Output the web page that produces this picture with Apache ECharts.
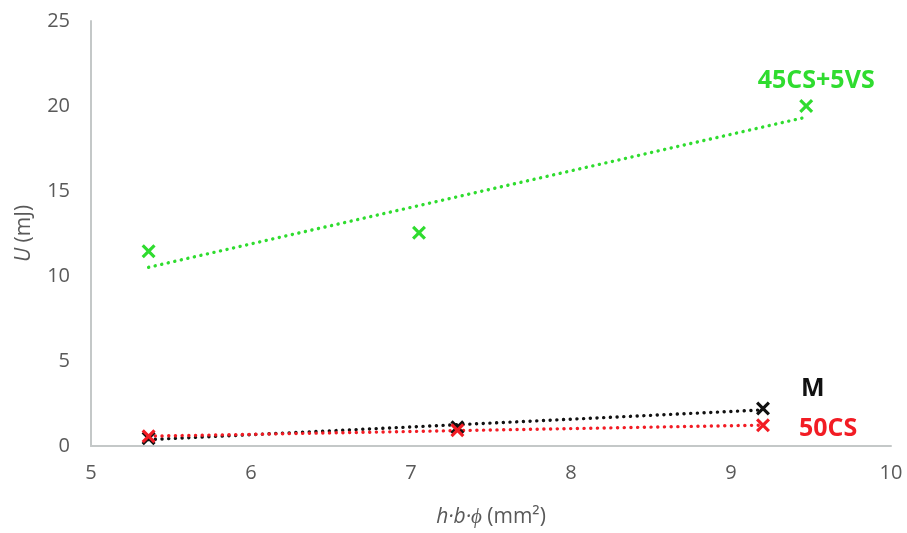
<!DOCTYPE html>
<html><head><meta charset="utf-8">
<script src="https://cdn.jsdelivr.net/npm/echarts@6/dist/echarts.min.js"></script>
<style>html,body{margin:0;padding:0;background:#fff}#c{width:907px;height:533px}</style>
</head><body><div id="c"></div>
<script>
// Data
const xTicks = [5, 6, 7, 8, 9, 10];
const yTicks = [0, 5, 10, 15, 20, 25];
const greenX = [5.36, 7.05, 9.47];
const greenY = [11.45, 12.55, 20.0];
const blackX = [5.36, 7.29, 9.2];
const blackY = [0.45, 1.1, 2.2];
const redX = [5.36, 7.29, 9.2];
const redY = [0.57, 0.92, 1.22];
const names = ['45CS+5VS', 'M', '50CS'];
const colors = ['#2fdc2f', '#111111', '#f21c24'];

function regress(xs, ys) {
  const n = xs.length;
  const mx = xs.reduce((a, b) => a + b, 0) / n;
  const my = ys.reduce((a, b) => a + b, 0) / n;
  let sxy = 0, sxx = 0;
  for (let i = 0; i < n; i++) { sxy += (xs[i] - mx) * (ys[i] - my); sxx += (xs[i] - mx) ** 2; }
  const b = sxy / sxx, a = my - b * mx;
  const x0 = Math.min(...xs), x1 = Math.max(...xs);
  return [[x0, a + b * x0], [x1, a + b * x1]];
}
const xMark = 'path://M0,1.6L1.6,0L5,3.4L8.4,0L10,1.6L6.6,5L10,8.4L8.4,10L5,6.6L1.6,10L0,8.4L3.4,5Z';

const sets = [[greenX, greenY], [blackX, blackY], [redX, redY]];
const labelCfg = [
  { position: 'top', offset: [10, -1] },
  { position: 'right', offset: [26, -20] },
  { position: 'right', offset: [24, 4] }
];
const series = [];
sets.forEach((s, k) => {
  series.push({
    type: 'line', data: regress(s[0], s[1]), symbol: 'none', silent: true, z: 2,
    lineStyle: { color: colors[k], width: 3.4, type: [0.1, 6.6], cap: 'round', opacity: 1 }
  });
  const pts = s[0].map((x, i) => {
    const p = { value: [x, s[1][i]] };
    if (i === s[0].length - 1) {
      p.label = Object.assign({ show: true, formatter: names[k], color: colors[k], fontWeight: 'bold',
        fontFamily: 'Open Sans', fontSize: 25 }, labelCfg[k]);
    }
    return p;
  });
  series.push({
    type: 'scatter', data: pts, symbol: xMark, symbolSize: 14, z: 3,
    itemStyle: { color: colors[k], opacity: 1 }
  });
});

const axisFont = { color: '#595959', fontSize: 20, fontFamily: 'Open Sans' };
const chart = echarts.init(document.getElementById('c'));
chart.setOption({
  animation: false,
  grid: { left: 91, right: 16, top: 21, bottom: 84 },
  xAxis: {
    type: 'value', min: xTicks[0], max: xTicks[xTicks.length - 1], interval: 1,
    axisLine: { lineStyle: { color: '#c4c8c8', width: 2 } },
    axisTick: { show: false }, splitLine: { show: false },
    axisLabel: Object.assign({ margin: 17 }, axisFont),
    name: '{i|h·b·ϕ} (mm²)', nameLocation: 'middle', nameGap: 61,
    nameTextStyle: { color: '#595959', fontSize: 21, fontFamily: 'Open Sans',
      rich: { i: { fontStyle: 'italic', fontSize: 21, color: '#595959', fontFamily: 'Open Sans' } } }
  },
  yAxis: {
    type: 'value', min: yTicks[0], max: yTicks[yTicks.length - 1], interval: 5,
    axisLine: { show: true, lineStyle: { color: '#c4c8c8', width: 2 } },
    axisTick: { show: false }, splitLine: { show: false },
    axisLabel: Object.assign({ margin: 21 }, axisFont),
    name: '{i|U} (mJ)', nameLocation: 'middle', nameGap: 56, nameRotate: 90,
    nameTextStyle: { color: '#595959', fontSize: 21, fontFamily: 'Open Sans',
      rich: { i: { fontStyle: 'italic', fontSize: 21, color: '#595959', fontFamily: 'Open Sans' } } }
  },
  series: series
});
</script></body></html>
